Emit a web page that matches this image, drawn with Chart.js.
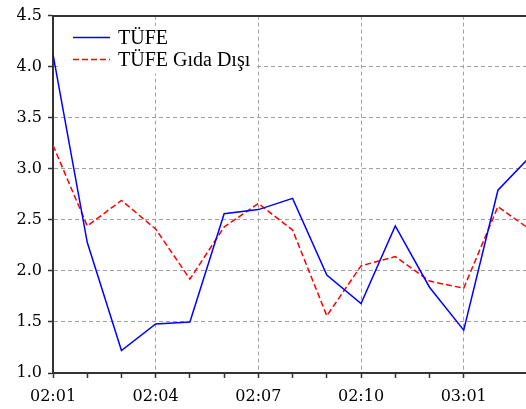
<!DOCTYPE html>
<html>
<head>
<meta charset="utf-8">
<script src="https://cdn.jsdelivr.net/npm/chart.js@4.4.1/dist/chart.umd.min.js"></script>
<style>
  html, body { margin: 0; padding: 0; background: #fff; }
  canvas { display: block; }
</style>
</head>
<body>
<canvas id="chart" width="526" height="409"></canvas>
<script>
// aylar (son nokta grafik alanının dışında kalıyor)
const months = ["02:01", "02:02", "02:03", "02:04", "02:05", "02:06", "02:07", "02:08",
                "02:09", "02:10", "02:11", "02:12", "03:01", "03:02", "03:03"];

const tufe = [4.12, 2.28, 1.22, 1.48, 1.50, 2.56, 2.60, 2.71, 1.96, 1.68, 2.44, 1.84, 1.42, 2.79, 3.14];
const gidaDisi = [3.23, 2.44, 2.69, 2.41, 1.92, 2.43, 2.66, 2.40, 1.56, 2.05, 2.14, 1.90, 1.83, 2.63, 2.39];

const seriesNames = ["TÜFE", "TÜFE Gıda Dışı"];

const toPoints = (arr) => arr.map((v, i) => ({ x: i, y: v }));

const gridGrey = "#a0a0a0";
const axisDark = "#333";
const tickFont = { family: "DejaVu Serif", size: 16 };

// legend inside the plot, on a white box
const insideLegend = {
    id: "insideLegend",
    afterDraw(chart) {
        const ctx = chart.ctx;
        const area = chart.chartArea;
        const x0 = area.left + 7;
        const y0 = area.top + 10;
        ctx.save();
        ctx.fillStyle = "#fff";
        ctx.fillRect(x0, y0, 195, 48);
        ctx.font = "20px 'Liberation Serif'";
        ctx.textBaseline = "middle";
        chart.data.datasets.forEach((ds, i) => {
            const cy = y0 + 12 + i * 22;
            ctx.strokeStyle = ds.borderColor;
            ctx.lineWidth = ds.borderWidth;
            ctx.setLineDash(ds.borderDash || []);
            ctx.beginPath();
            ctx.moveTo(x0 + 13, cy);
            ctx.lineTo(x0 + 50, cy);
            ctx.stroke();
            ctx.setLineDash([]);
            ctx.fillStyle = "#000";
            ctx.fillText(ds.label, x0 + 58, cy + 1);
        });
        ctx.restore();
    },
};

const ctx = document.getElementById("chart").getContext("2d");

new Chart(ctx, {
    type: "line",
    data: {
        datasets: [
            {
                label: seriesNames[0],
                data: toPoints(tufe),
                borderColor: "#0000ff",
                borderWidth: 1.5,
                pointRadius: 0,
                tension: 0,
                fill: false,
            },
            {
                label: seriesNames[1],
                data: toPoints(gidaDisi),
                borderColor: "#ff0000",
                borderWidth: 1.5,
                borderDash: [6, 3],
                pointRadius: 0,
                tension: 0,
                fill: false,
            },
        ],
    },
    options: {
        responsive: false,
        animation: false,
        layout: { padding: 0 },
        plugins: {
            legend: { display: false },
            tooltip: { enabled: false },
        },
        scales: {
            x: {
                type: "linear",
                position: "bottom",
                min: 0,
                max: 13.82,
                afterBuildTicks: (scale) => {
                    scale.ticks = scale.ticks.filter((t) => Number.isInteger(t.value));
                },
                afterFit: (scale) => { scale.height = 36; },
                ticks: {
                    stepSize: 1,
                    autoSkip: false,
                    maxRotation: 0,
                    padding: 9,
                    color: "#000",
                    font: tickFont,
                    callback: (v) => (v % 3 === 0 ? months[v] : ""),
                },
                grid: {
                    color: (c) => (c.tick && c.tick.value % 3 === 0 && c.tick.value !== 0 ? gridGrey : "rgba(0,0,0,0)"),
                    lineWidth: 1,
                    drawTicks: true,
                    tickLength: 5,
                    tickColor: axisDark,
                    tickWidth: 1.5,
                },
                border: { display: true, color: axisDark, width: 2, dash: [4, 3] },
            },
            xTop: {
                type: "linear",
                position: "top",
                display: true,
                afterFit: (scale) => { scale.height = 14; },
                ticks: { display: false },
                grid: { display: false, drawTicks: false },
                border: { display: true, color: axisDark, width: 2 },
            },
            y: {
                min: 1,
                max: 4.5,
                afterFit: (scale) => { scale.width = 53; },
                ticks: {
                    stepSize: 0.5,
                    padding: 6,
                    color: "#000",
                    font: tickFont,
                    callback: (v) => v.toFixed(1),
                },
                grid: {
                    color: (c) => (c.tick && (c.tick.value === 4.5 || c.tick.value === 1) ? "rgba(0,0,0,0)" : gridGrey),
                    lineWidth: 1,
                    drawTicks: true,
                    tickLength: 5,
                    tickColor: axisDark,
                    tickWidth: 1.5,
                },
                border: { display: true, color: axisDark, width: 2, dash: [4, 3] },
            },
        },
    },
    plugins: [insideLegend],
});
</script>
</body>
</html>
